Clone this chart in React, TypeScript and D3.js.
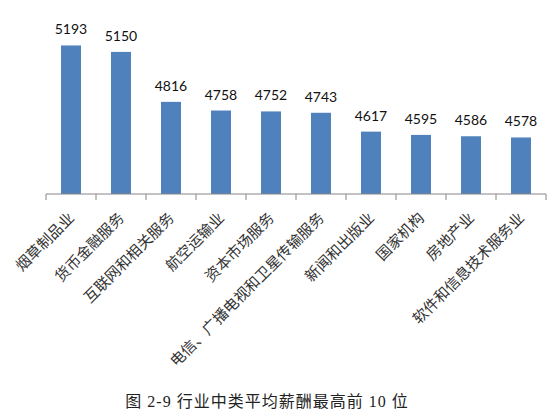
import { useMemo } from "react";
import * as d3 from "d3";

const WIDTH = 552;
const HEIGHT = 417;

const categories = [
    "烟草制品业",
    "货币金融服务",
    "互联网和相关服务",
    "航空运输业",
    "资本市场服务",
    "电信、广播电视和卫星传输服务",
    "新闻和出版业",
    "国家机构",
    "房地产业",
    "软件和信息技术服务业",
];

const salaries = [5193, 5150, 4816, 4758, 4752, 4743, 4617, 4595, 4586, 4578];

const yDomain = [4200, 5400];

const caption = "图 2-9 行业中类平均薪酬最高前 10 位";

const BAR_COLOR = "#4F81BD";
const AXIS_COLOR = "#868686";

const PLOT = { left: 46, right: 546, top: 14.5, bottom: 194 };

export default function App() {
    const x = useMemo(
        () =>
            d3
                .scaleBand<string>()
                .domain(categories)
                .range([PLOT.left, PLOT.right])
                .paddingInner(0.6)
                .paddingOuter(0.3),
        []
    );

    const y = useMemo(
        () => d3.scaleLinear().domain(yDomain).range([PLOT.bottom, PLOT.top]),
        []
    );

    const step = (PLOT.right - PLOT.left) / categories.length;
    const tickXs = d3.range(categories.length + 1).map((i) => PLOT.left + i * step);

    return (
        <svg
            width={WIDTH}
            height={HEIGHT}
            style={{ position: "absolute", left: 0, top: 0, background: "#fff" }}
        >
            <rect width={WIDTH} height={HEIGHT} fill="#fff" />
            {categories.map((c, i) => {
                const bx = x(c)!;
                const top = y(salaries[i]);
                return (
                    <g key={c}>
                        <rect
                            x={bx}
                            y={top}
                            width={x.bandwidth()}
                            height={PLOT.bottom - top}
                            fill={BAR_COLOR}
                        />
                        <text
                            x={bx + x.bandwidth() / 2}
                            y={top - 11}
                            textAnchor="middle"
                            fontFamily="Lato, 'Open Sans', sans-serif"
                            fontSize={14}
                            fill="#111"
                        >
                            {salaries[i]}
                        </text>
                    </g>
                );
            })}

            <line
                x1={PLOT.left}
                x2={PLOT.right}
                y1={PLOT.bottom}
                y2={PLOT.bottom}
                stroke={AXIS_COLOR}
                strokeWidth={1}
            />
            {tickXs.map((tx, i) => (
                <line
                    key={i}
                    x1={tx}
                    x2={tx}
                    y1={PLOT.bottom}
                    y2={PLOT.bottom + 6}
                    stroke={AXIS_COLOR}
                    strokeWidth={1}
                />
            ))}

            {categories.map((c) => {
                const cx = x(c)! + x.bandwidth() / 2 + 4;
                const cy = 219;
                return (
                    <text
                        key={c}
                        x={cx}
                        y={cy}
                        transform={`rotate(-45, ${cx}, ${cy})`}
                        textAnchor="end"
                        fontFamily="'Noto Sans CJK SC', sans-serif"
                        fontSize={15}
                        fill="#333"
                    >
                        {c}
                    </text>
                );
            })}

            <text
                x={267}
                y={407}
                textAnchor="middle"
                fontFamily="'Liberation Serif', 'Noto Sans CJK SC', serif"
                fontSize={16}
                letterSpacing={1}
                fill="#222"
            >
                {caption}
            </text>
        </svg>
    );
}
